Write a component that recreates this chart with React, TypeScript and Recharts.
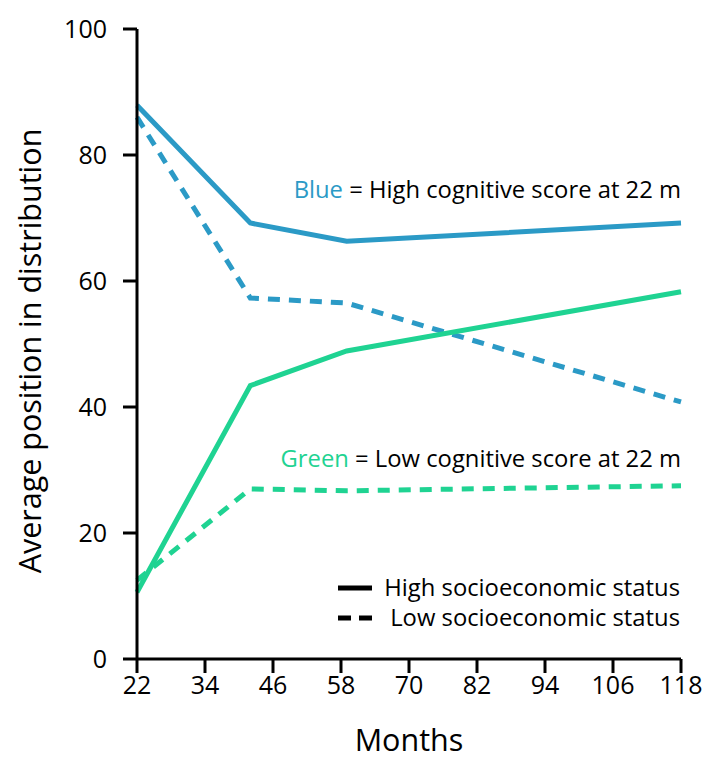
import React from 'react';
import { LineChart, Line, XAxis, YAxis } from 'recharts';

const months = [22, 42, 59, 118];
const blueHigh = [87.9, 69.2, 66.3, 69.2];
const blueLow = [86.0, 57.3, 56.5, 40.8];
const greenHigh = [10.6, 43.4, 48.9, 58.3];
const greenLow = [12.5, 27.0, 26.7, 27.5];
const xTicks = [22, 34, 46, 58, 70, 82, 94, 106, 118];
const yTicks = [0, 20, 40, 60, 80, 100];

const data = months.map((m, i) => ({
  month: m,
  blueHigh: blueHigh[i],
  blueLow: blueLow[i],
  greenHigh: greenHigh[i],
  greenLow: greenLow[i],
}));

const BLUE = '#2b9ac6';
const GREEN = '#1fd392';
const FONT = '"Open Sans", "Noto Sans", sans-serif';

export default function App() {
  return (
    <div style={{ position: 'absolute', left: 0, top: 0, background: '#fff' }}>
      <LineChart
        width={706}
        height={762}
        data={data}
        margin={{ top: 29, right: 25, bottom: 3, left: 67 }}
      >
        <XAxis
          dataKey="month"
          type="number"
          domain={[22, 118]}
          ticks={xTicks}
          axisLine={{ stroke: '#000', strokeWidth: 3 }}
          tickLine={{ stroke: '#000', strokeWidth: 3 }}
          tickSize={14}
          tick={{ fill: '#000', fontSize: 25, fontFamily: FONT }}
          tickMargin={3}
          height={100}
          label={{ value: 'Months', position: 'insideBottom', offset: 8, fill: '#000', fontSize: 30.5, fontFamily: FONT }}
        />
        <YAxis
          type="number"
          domain={[0, 100]}
          ticks={yTicks}
          axisLine={{ stroke: '#000', strokeWidth: 3 }}
          tickLine={{ stroke: '#000', strokeWidth: 3 }}
          tickSize={14}
          tick={{ fill: '#000', fontSize: 25, fontFamily: FONT }}
          tickMargin={16}
          width={70}
          label={{ value: 'Average position in distribution', angle: -90, position: 'insideLeft', offset: -37, dy: 7, style: { textAnchor: 'middle' }, fill: '#000', fontSize: 30.5, fontFamily: FONT }}
        />
        <Line dataKey="blueHigh" stroke={BLUE} strokeWidth={5} dot={false} isAnimationActive={false} type="linear" />
        <Line dataKey="blueLow" stroke={BLUE} strokeWidth={5} strokeDasharray="12 9" dot={false} isAnimationActive={false} type="linear" />
        <Line dataKey="greenHigh" stroke={GREEN} strokeWidth={5} dot={false} isAnimationActive={false} type="linear" />
        <Line dataKey="greenLow" stroke={GREEN} strokeWidth={5} strokeDasharray="12 9" dot={false} isAnimationActive={false} type="linear" />
        <g fontFamily={FONT} fontSize={23.8}>
          <text x={681} y={198} textAnchor="end">
            <tspan fill={BLUE}>Blue</tspan>
            <tspan fill="#000"> = High cognitive score at 22 m</tspan>
          </text>
          <text x={681} y={467} textAnchor="end">
            <tspan fill={GREEN}>Green</tspan>
            <tspan fill="#000"> = Low cognitive score at 22 m</tspan>
          </text>
          <line x1={338} x2={372} y1={588} y2={588} stroke="#000" strokeWidth={5} />
          <line x1={338} x2={372} y1={618} y2={618} stroke="#000" strokeWidth={5} strokeDasharray="13 8" />
          <text x={680} y={596} textAnchor="end" fill="#000">High socioeconomic status</text>
          <text x={680} y={626} textAnchor="end" fill="#000">Low socioeconomic status</text>
        </g>
      </LineChart>
    </div>
  );
}
